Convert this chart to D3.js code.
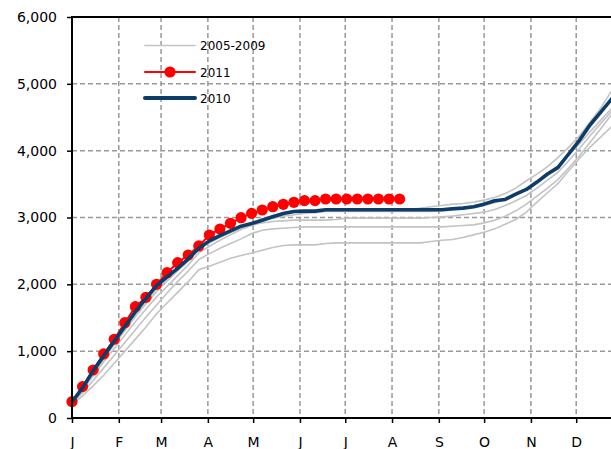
<!DOCTYPE html>
<html>
<head>
<meta charset="utf-8">
<script src="https://cdn.jsdelivr.net/npm/d3@7"></script>
<style>
  html, body { margin: 0; padding: 0; background: #fff; }
  svg { display: block; }
  text { font-family: "DejaVu Sans", sans-serif; fill: #000; }
</style>
</head>
<body>
<svg id="chart" width="611" height="449"></svg>
<script>
// ---------- DATA ----------
const monthLabels = ["J","F","M","A","M","J","J","A","S","O","N","D"];
const monthStartDays = [0,31,59,90,120,151,181,212,243,273,304,334];
const yTickValues = [0,1000,2000,3000,4000,5000,6000];
const seriesNames = ["2005-2009","2011","2010"];

// weekly cumulative values (week 0 = Jan 1)
const series2011 = [245,470,718,958,1178,1426,1665,1806,2000,2174,2324,2439,2574,
  2738,2828,2913,2997,3062,3112,3162,3197,3227,3252,3252,3277,3277,3277,3277,3277,3277,3277,3277];

const series2010 = [240,450,705,930,1150,1370,1590,1790,1980,2110,2240,2380,2540,2650,2730,2800,
  2870,2910,2960,3010,3060,3090,3095,3095,3115,3115,3115,3115,3115,3115,3115,3115,3115,3115,3115,3115,
  3130,3140,3160,3200,3250,3270,3350,3420,3530,3650,3750,3950,4150,4380,4570,4760,4950];

const grayA = [230,440,660,880,1100,1310,1520,1710,1890,2050,2200,2350,2530,2620,2700,2770,
  2840,2900,2950,2990,3020,3040,3060,3070,3090,3090,3090,3090,3090,3090,3090,3090,3090,3090,3090,3100,
  3110,3130,3150,3180,3220,3270,3340,3420,3520,3640,3770,3930,4100,4280,4450,4620,4800];
const grayB = [240,450,680,900,1120,1340,1550,1750,1930,2080,2230,2380,2560,2640,2720,2790,
  2860,2920,2980,3030,3060,3080,3090,3100,3120,3120,3120,3120,3120,3120,3120,3120,3120,3140,3160,3180,
  3200,3210,3230,3260,3300,3360,3440,3550,3650,3760,3900,4050,4220,4420,4630,4880,5080];
const grayC = [230,420,630,840,1040,1240,1440,1630,1810,1970,2130,2290,2470,2570,2660,2740,
  2820,2880,2920,2940,2950,2960,2960,2960,2960,2970,2990,2990,2990,2990,2990,2990,2990,2990,3000,3010,
  3020,3040,3060,3080,3120,3180,3250,3330,3440,3560,3680,3850,4030,4220,4400,4580,4760];
const grayD = [220,380,560,750,940,1130,1320,1510,1690,1870,2040,2200,2370,2460,2540,2610,
  2680,2760,2810,2830,2840,2850,2860,2860,2860,2860,2860,2860,2860,2860,2860,2860,2860,2860,2860,2860,
  2870,2880,2890,2920,2960,3020,3100,3200,3320,3440,3570,3740,3920,4120,4320,4530,4720];
const grayE = [200,330,480,640,820,1000,1180,1360,1560,1720,1880,2040,2220,2270,2330,2390,
  2430,2470,2510,2550,2580,2590,2590,2590,2610,2620,2620,2620,2620,2620,2620,2620,2620,2620,2640,2660,
  2670,2700,2740,2780,2830,2900,2970,3080,3230,3370,3510,3700,3880,4050,4200,4350,4500];
const graySeries = [grayA, grayB, grayC, grayD, grayE];

// ---------- STYLE ----------
const colGray = "#c3c3c3", colRed = "#ff0000", colBlue = "#0d3b6a", colGrid = "#999999";

const svg = d3.select("#chart");
const mLeft = 72, mTop = 17, mBottom = 418, plotRight = 623;

const x = d3.scaleLinear().domain([0, 365]).range([mLeft, plotRight]);
const y = d3.scaleLinear().domain([0, 6000]).range([mBottom, mTop]);

// gridlines
const grid = svg.append("g");
grid.selectAll("line.h").data(yTickValues.filter(v => v > 0 && v < 6000)).join("line")
  .attr("x1", mLeft).attr("x2", 611).attr("y1", d => y(d)).attr("y2", d => y(d))
  .attr("stroke", colGrid).attr("stroke-width", 1.5).attr("stroke-dasharray", "5,3");
grid.selectAll("line.v").data(monthStartDays.slice(1)).join("line")
  .attr("x1", d => x(d)).attr("x2", d => x(d)).attr("y1", mTop).attr("y2", mBottom)
  .attr("stroke", colGrid).attr("stroke-width", 1.5).attr("stroke-dasharray", "5,3");

const line = d3.line().x((d, i) => x(i * 7)).y(d => y(d));

// gray lines
svg.append("g").selectAll("path").data(graySeries).join("path")
  .attr("d", line).attr("fill", "none").attr("stroke", colGray).attr("stroke-width", 1.6);

// 2011
svg.append("path").datum(series2011).attr("d", line)
  .attr("fill", "none").attr("stroke", colRed).attr("stroke-width", 2);
svg.append("g").selectAll("circle").data(series2011).join("circle")
  .attr("cx", (d, i) => x(i * 7)).attr("cy", d => y(d)).attr("r", 5.6).attr("fill", colRed);

// 2010
svg.append("path").datum(series2010).attr("d", line)
  .attr("fill", "none").attr("stroke", colBlue).attr("stroke-width", 3.6)
  .attr("stroke-linejoin", "round");

// axes
const yAxis = d3.axisLeft(y).tickValues(yTickValues).tickFormat(d3.format(",")).tickSize(5).tickPadding(10);
const gy = svg.append("g").attr("transform", `translate(${mLeft},0)`).call(yAxis);
gy.select(".domain").remove();
gy.selectAll(".tick line").attr("stroke", "#000").attr("stroke-width", 1.5);
gy.selectAll(".tick text").style("font-size", "14px").style("font-family", "DejaVu Sans");

const xAxis = d3.axisBottom(x).tickValues(monthStartDays).tickFormat((d, i) => monthLabels[i]).tickSize(5).tickPadding(14);
const gx = svg.append("g").attr("transform", `translate(0,${mBottom})`).call(xAxis);
gx.select(".domain").remove();
gx.selectAll(".tick line").attr("stroke", "#000").attr("stroke-width", 1.5);
gx.selectAll(".tick text").style("font-size", "14px").style("font-family", "DejaVu Sans");

// frame lines
svg.append("line").attr("x1", mLeft).attr("x2", 611).attr("y1", mBottom).attr("y2", mBottom)
  .attr("stroke", "#000").attr("stroke-width", 2);
svg.append("line").attr("x1", mLeft).attr("x2", 611).attr("y1", mTop).attr("y2", mTop)
  .attr("stroke", "#000").attr("stroke-width", 2);
svg.append("line").attr("x1", mLeft).attr("x2", mLeft).attr("y1", mTop - 1).attr("y2", mBottom + 1)
  .attr("stroke", "#000").attr("stroke-width", 2);

// legend
const lg = svg.append("g");
const legendRows = [
  { name: seriesNames[0], color: colGray, w: 1.6, dot: false, yy: 45.5 },
  { name: seriesNames[1], color: colRed, w: 2, dot: true, yy: 72 },
  { name: seriesNames[2], color: colBlue, w: 4, dot: false, yy: 98 }
];
legendRows.forEach(r => {
  lg.append("line").attr("x1", 145).attr("x2", 195).attr("y1", r.yy).attr("y2", r.yy)
    .attr("stroke", r.color).attr("stroke-width", r.w).attr("stroke-linecap", "round");
  if (r.dot) lg.append("circle").attr("cx", 170).attr("cy", r.yy).attr("r", 5.6).attr("fill", r.color);
  lg.append("text").attr("x", 200).attr("y", r.yy + 4.5).style("font-size", "12px").text(r.name);
});
</script>
</body>
</html>
